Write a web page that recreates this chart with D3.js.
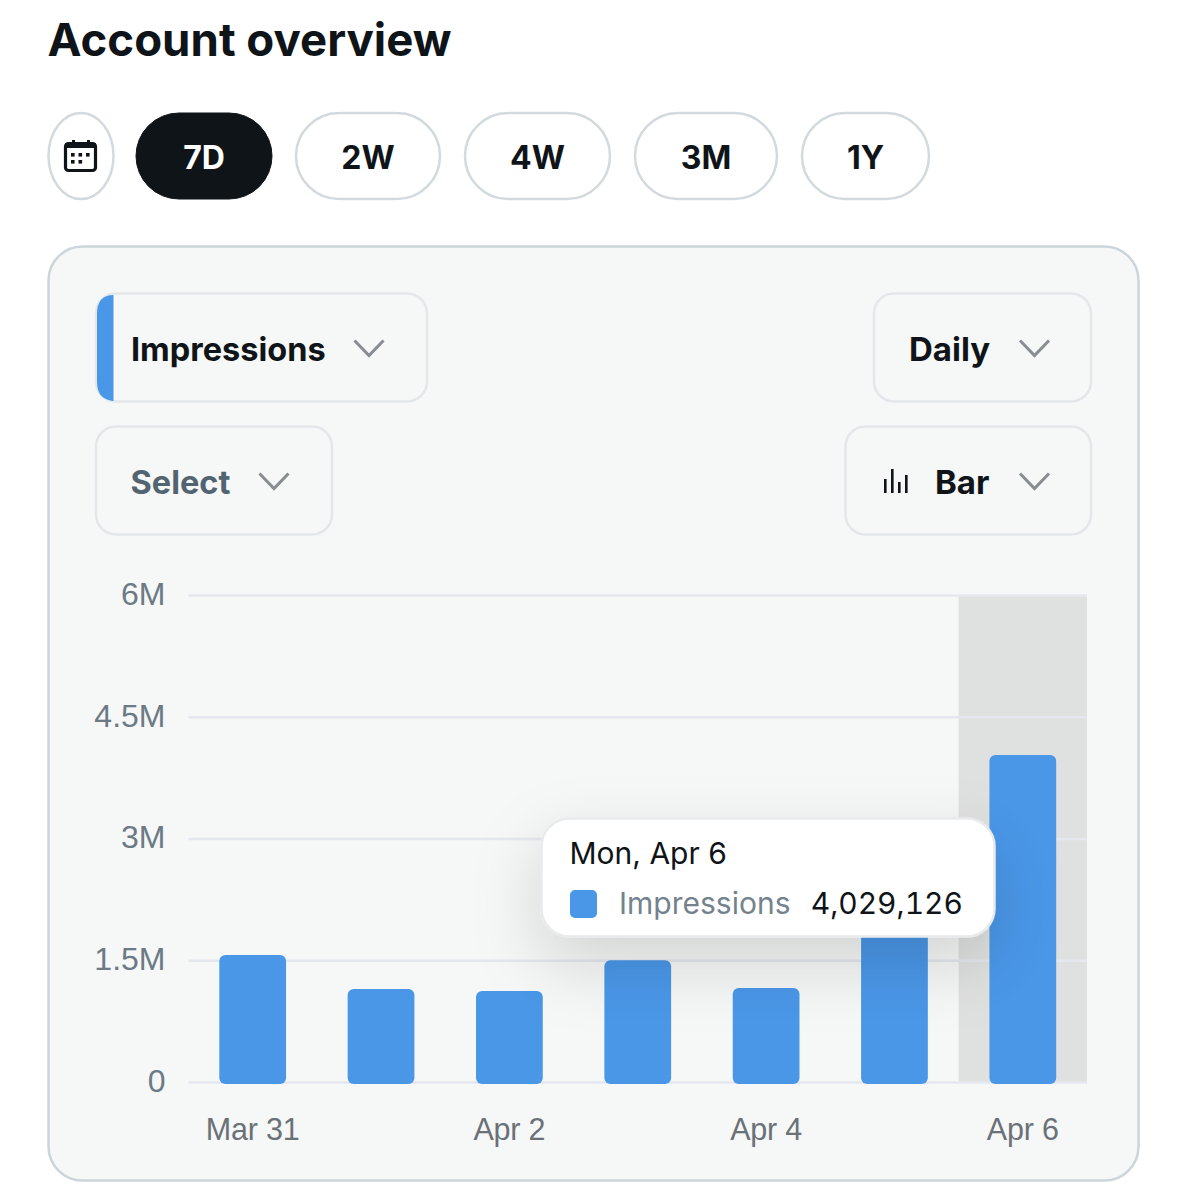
<!DOCTYPE html>
<html>
  <head>
    <meta charset="utf-8">
    <script src="https://d3js.org/d3.v7.min.js"></script>
    <style>
      body{
        margin: 0;
        background: #fff;
        font-family: Inter, sans-serif;
      }
      svg{ display: block; }
    </style>
  </head>
  <body>
    <div id="chart"></div>
    <script>
      // values; Apr 5 top is hidden by the tooltip, so estimated
      const days = ["Mar 31", "Apr 1", "Apr 2", "Apr 3", "Apr 4", "Apr 5", "Apr 6"];
      const impressions = [1565000, 1146000, 1120000, 1500000, 1158000, 2300000, 4029126];
      const yTicks = [0, 1500000, 3000000, 4500000, 6000000];
      const yTickLabels = ["0", "1.5M", "3M", "4.5M", "6M"];
      const xTickLabels = ["Mar 31", "Apr 2", "Apr 4", "Apr 6"];
      const rangeLabels = ["7D", "2W", "4W", "3M", "1Y"];
      const highlighted = "Apr 6";
      const tooltipTitle = "Mon, Apr 6";
      const seriesName = "Impressions";

      const width = 1187, height = 1200;
      const blue = "#4a97e8", ink = "#0f1419", panelFill = "#f6f7f7";
      const axisFont = "'Liberation Sans', sans-serif";
      const plot = {left: 188.5, right: 1087, top: 595, bottom: 1082};

      const svg = d3.select("#chart").append("svg")
        .attr("width", width)
        .attr("height", height);

      const defs = svg.append("defs");
      const shadow = defs.append("filter").attr("id", "tipShadow")
        .attr("x", "-40%").attr("y", "-60%").attr("width", "180%").attr("height", "280%");
      shadow.append("feDropShadow")
        .attr("dx", 0).attr("dy", 26).attr("stdDeviation", 34)
        .attr("flood-color", "#000").attr("flood-opacity", 0.15);

      svg.append("text")
        .attr("x", 47.5).attr("y", 56)
        .attr("font-size", 45.6).attr("font-weight", 700)
        .attr("fill", ink)
        .text("Account overview");

      // range pills
      const pillBoxes = [[136, 136], [296, 144], [465, 145], [635, 142], [802, 127]];
      function pill(x, w, label, active) {
        svg.append("rect")
          .attr("x", x).attr("y", 113).attr("width", w).attr("height", 86)
          .attr("rx", 43)
          .attr("fill", active ? "#0f1419" : "#fff")
          .attr("stroke", active ? "#0f1419" : "#d3dade")
          .attr("stroke-width", active ? 1 : 2.5);
        if (label) {
          svg.append("text")
            .attr("x", x + w / 2).attr("y", 169)
            .attr("text-anchor", "middle")
            .attr("font-size", 32).attr("font-weight", 700)
            .attr("fill", active ? "#fff" : ink)
            .text(label);
        }
      }
      pill(48.5, 65, null, false);
      rangeLabels.forEach((d, i) => pill(pillBoxes[i][0], pillBoxes[i][1], d, i === 0));

      // calendar icon
      const cal = svg.append("g").attr("fill", ink);
      cal.append("rect")
        .attr("x", 65.5).attr("y", 143.5).attr("width", 30).attr("height", 27).attr("rx", 3)
        .attr("fill", "none").attr("stroke", ink).attr("stroke-width", 3.2);
      cal.append("rect").attr("x", 65).attr("y", 143).attr("width", 31).attr("height", 5);
      [72, 87].forEach(x => cal.append("rect").attr("x", x).attr("y", 140).attr("width", 3).attr("height", 5));
      [[71, 153], [78.5, 153], [86, 153], [71, 160], [78.5, 160]].forEach(p => {
        cal.append("rect").attr("x", p[0]).attr("y", p[1]).attr("width", 3.6).attr("height", 3.6);
      });

      // panel
      svg.append("rect")
        .attr("x", 48.5).attr("y", 246.5).attr("width", 1090).attr("height", 934)
        .attr("rx", 34)
        .attr("fill", panelFill)
        .attr("stroke", "#ccd5da")
        .attr("stroke-width", 2.5);

      function chevron(x, y) {
        svg.append("path")
          .attr("d", `M${x},${y} l14.5,15 l14.5,-15`)
          .attr("fill", "none")
          .attr("stroke", "#878d91")
          .attr("stroke-width", 3);
      }
      function dropdown(x, y, w, h, label, textX, chevX, color, size) {
        svg.append("rect")
          .attr("x", x).attr("y", y).attr("width", w).attr("height", h)
          .attr("rx", 20)
          .attr("fill", panelFill)
          .attr("stroke", "#e3e7ea")
          .attr("stroke-width", 2.5);
        svg.append("text")
          .attr("x", textX).attr("y", y + 67)
          .attr("font-size", size || 33).attr("font-weight", 700)
          .attr("fill", color || ink)
          .text(label);
        chevron(chevX, y + 47);
      }
      dropdown(96, 293.5, 331, 108, seriesName, 131, 354.5, ink, 32.5);
      dropdown(96, 426.5, 236, 108, "Select", 130.5, 259.5, "#536471", 32.5);
      dropdown(874, 293.5, 217, 108, "Daily", 909, 1020);
      dropdown(845.5, 426.5, 245.5, 108, "Bar", 935, 1020);

      // blue marker on the Impressions dropdown
      svg.append("path")
        .attr("d", "M113.5,295 V401 H116 Q97,401 97,382 V314 Q97,295 113.5,295 Z")
        .attr("fill", blue);

      // small bar glyph in the Bar dropdown
      [[884, 14], [891, 24], [898, 11], [905, 18]].forEach(g => {
        svg.append("rect")
          .attr("x", g[0]).attr("y", 493 - g[1]).attr("width", 2.6).attr("height", g[1])
          .attr("fill", ink);
      });

      // scales
      const x = d3.scaleBand()
        .domain(days)
        .range([plot.left, plot.right])
        .paddingInner(0.48)
        .paddingOuter(0.24);
      const y = d3.scaleLinear()
        .domain([0, 6000000])
        .range([plot.bottom, plot.top]);

      // highlighted day, full step wide
      svg.append("rect")
        .attr("x", x(highlighted) - x.step() * 0.24)
        .attr("y", y(6000000))
        .attr("width", x.step())
        .attr("height", y(0) - y(6000000))
        .attr("fill", "#dfe0e0");

      const yAxis = d3.axisLeft(y)
        .tickValues(yTicks)
        .tickFormat((d, i) => yTickLabels[i])
        .tickSize(-(plot.right - plot.left))
        .tickPadding(23);
      const gy = svg.append("g")
        .attr("transform", `translate(${plot.left},0)`)
        .call(yAxis);
      gy.select(".domain").remove();
      gy.selectAll(".tick line").attr("stroke", "#e4e8ee").attr("stroke-width", 2.5);
      gy.selectAll(".tick text")
        .attr("font-family", axisFont)
        .attr("font-size", 32)
        .attr("dy", "0.29em")
        .attr("fill", "#6c7a86");

      const xAxis = d3.axisBottom(x)
        .tickValues(xTickLabels)
        .tickSize(0)
        .tickPadding(36);
      const gx = svg.append("g")
        .attr("transform", `translate(0,${plot.bottom})`)
        .call(xAxis);
      gx.select(".domain").remove();
      gx.selectAll(".tick text")
        .attr("font-family", axisFont)
        .attr("font-size", 30.5)
        .attr("letter-spacing", -0.2)
        .attr("fill", "#6a7177");

      svg.append("g").selectAll("rect")
        .data(impressions)
        .join("rect")
        .attr("x", (d, i) => x(days[i]))
        .attr("y", d => y(d))
        .attr("width", x.bandwidth())
        .attr("height", d => y(0) - y(d) + 2)
        .attr("rx", 6)
        .attr("fill", blue);

      // tooltip
      const tip = svg.append("g").attr("font-family", "Inter, sans-serif").attr("font-size", 30);
      tip.append("rect")
        .attr("x", 541.5).attr("y", 818.5).attr("width", 453).attr("height", 118)
        .attr("rx", 28)
        .attr("fill", "#fff")
        .attr("stroke", "#e8eaec")
        .attr("stroke-width", 2.5)
        .attr("filter", "url(#tipShadow)");
      tip.append("text")
        .attr("x", 569.5).attr("y", 864)
        .attr("fill", ink)
        .text(tooltipTitle);
      tip.append("rect")
        .attr("x", 570).attr("y", 890).attr("width", 27).attr("height", 28)
        .attr("rx", 5)
        .attr("fill", blue);
      tip.append("text")
        .attr("x", 619).attr("y", 914)
        .attr("fill", "#74828e")
        .text(seriesName);
      tip.append("text")
        .attr("x", 963).attr("y", 914)
        .attr("text-anchor", "end")
        .attr("fill", ink)
        .style("font-variant-numeric", "tabular-nums")
        .text(d3.format(",")(impressions[days.indexOf(highlighted)]));
    </script>
  </body>
</html>
